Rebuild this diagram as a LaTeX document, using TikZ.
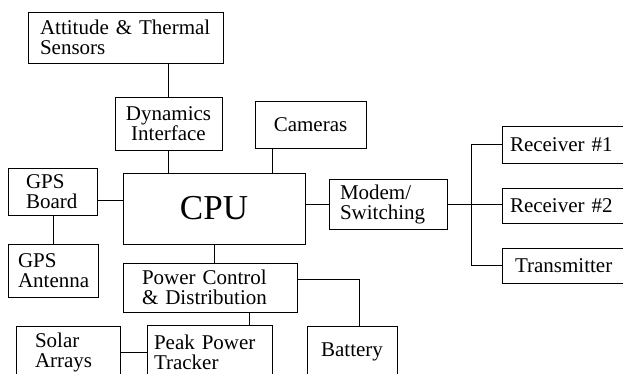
\documentclass[tikz,border=0pt]{standalone}
\usepackage{fontspec}
\setmainfont{Liberation Serif}
\usepackage{tikz}
\usetikzlibrary{positioning}

\begin{document}
\begin{tikzpicture}[
  x=1pt, y=-1pt,
  box/.style={rectangle, draw, line width=0.8pt, inner ysep=0pt, align=left, font=\fontsize{21}{20}\selectfont},
  cbox/.style={box, align=center, inner xsep=4pt},
  link/.style={draw, line width=0.8pt}
]
\useasboundingbox (0,0) rectangle (623,373);
\clip (0,0) rectangle (623,373);

\node[box, text width=171pt, inner xsep=12pt, minimum height=51pt] (att) at (125.5,37.5) {Attitude \& Thermal\\Sensors};
\node[cbox, text width=99pt, minimum height=53pt] (dyn) at (168.5,123.5) {Dynamics\\Interface};
\node[cbox, text width=103pt, minimum height=47pt] (cam) at (310.5,124.5) {Cameras};
\node[box, align=center, font=\fontsize{35}{35}\selectfont, minimum width=182pt, minimum height=71pt] (cpu) at (214,208.5) {CPU};
\node[box, text width=53pt, inner xsep=18pt, minimum height=47pt] (gpsb) at (52.5,191.5) {GPS\\Board};
\node[box, text width=70pt, inner xsep=10pt, minimum height=53pt] (gpsa) at (53,270.5) {GPS\\Antenna};
\node[box, text width=136pt, inner xsep=19pt, minimum height=49pt] (pwr) at (210,287.5) {Power Control\\\& Distribution};
\node[box, text width=66pt, inner xsep=19pt, minimum height=52pt] (solar) at (68,352) {Solar\\Arrays};
\node[box, text width=111pt, inner xsep=7pt, minimum height=54pt] (peak) at (209.5,352) {Peak Power\\Tracker};
\node[cbox, text width=82pt, minimum height=52pt] (bat) at (352,352) {Battery};
\node[box, text width=96pt, inner xsep=11pt, minimum height=50pt] (modem) at (388,204.5) {Modem/\\Switching};
\node[box, text width=122pt, inner xsep=8pt, minimum height=37pt] (rx1) at (571,144.5) {Receiver \#1};
\node[box, text width=122pt, inner xsep=8pt, minimum height=35pt] (rx2) at (571,205.5) {Receiver \#2};
\node[box, text width=112pt, inner xsep=13pt, minimum height=35pt] (tx) at (571,265.5) {Transmitter};

\draw[link] (att.south -| dyn.north) -- (dyn.north);
\draw[link] (dyn.south) -- (dyn.south |- cpu.north);
\draw[link] ([xshift=18pt]cam.south west) -- ([xshift=18pt]cam.south west |- cpu.north);
\draw[link] ([yshift=-8.5pt]gpsb.east) -- ([yshift=-8.5pt]gpsb.east -| cpu.west);
\draw[link] (gpsb.south -| gpsa.north) -- (gpsa.north);
\draw[link] (cpu.south) -- (cpu.south |- pwr.north);
\draw[link] ([yshift=8.5pt]pwr.east) -| ([xshift=7pt]bat.north);
\draw[link] ([xshift=39pt]pwr.south) -- ([xshift=39pt]pwr.south |- peak.north);
\draw[link] (solar.east) -- (peak.west);
\draw[link] (cpu.east |- modem.west) -- (modem.west);
\draw[link] (modem.east) -- ++(24,0) coordinate (hub);
\draw[link] (rx1.west) -| (hub |- tx.west) -- (tx.west);
\draw[link] (hub) -- (hub -| rx2.west);
\end{tikzpicture}
\end{document}
